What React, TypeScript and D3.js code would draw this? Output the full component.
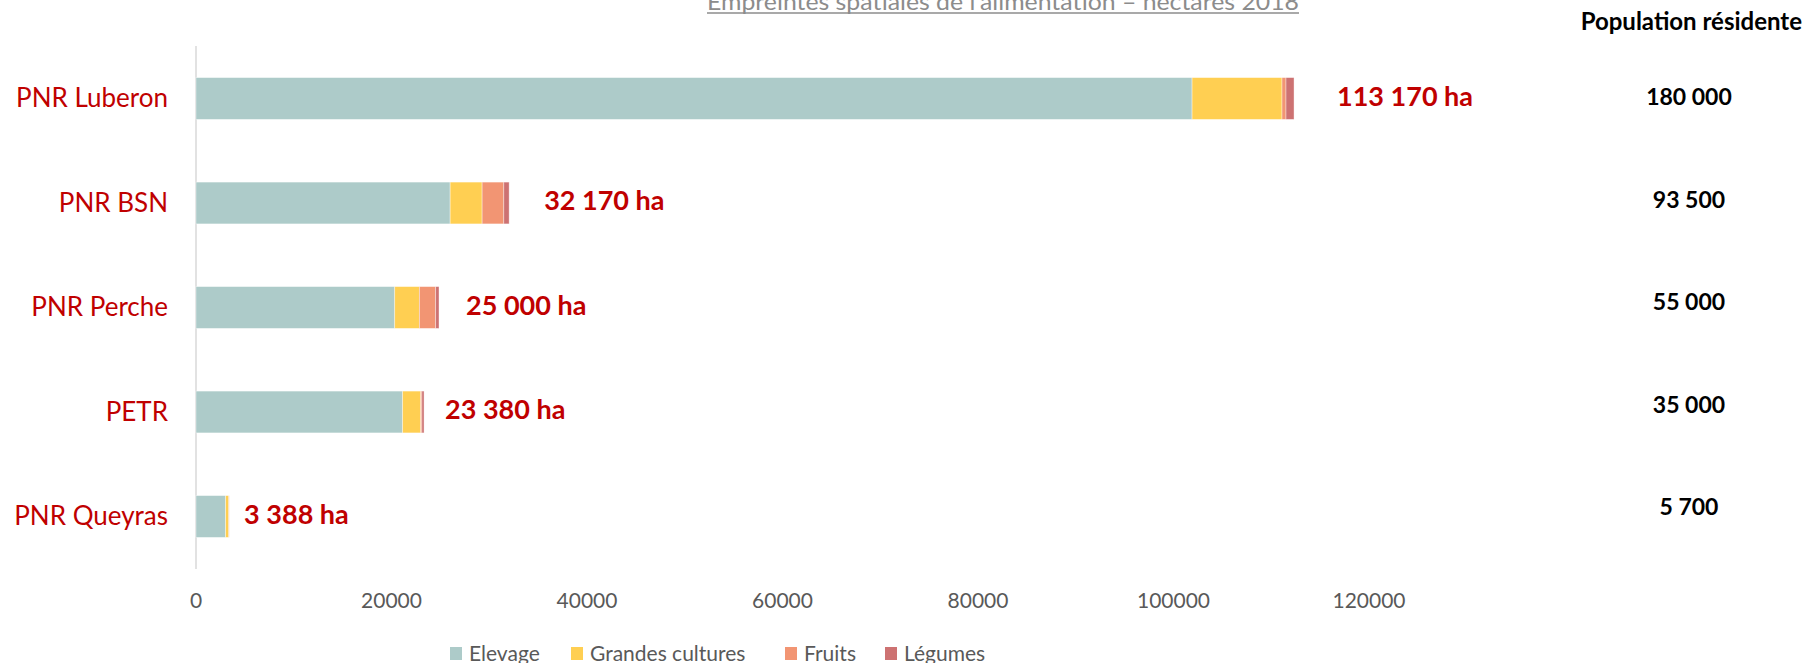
import React from "react";
import * as d3 from "d3";

const categories = ["PNR Luberon", "PNR BSN", "PNR Perche", "PETR", "PNR Queyras"];
const seriesNames = ["Elevage", "Grandes cultures", "Fruits", "Légumes"];
const elevage = [101900, 26000, 20330, 21140, 3030];
const grandesCultures = [9200, 3270, 2520, 1850, 330];
const fruits = [410, 2220, 1670, 120, 15];
const legumes = [820, 545, 340, 220, 13];
const totalLabels = ["113 170 ha", "32 170 ha", "25 000 ha", "23 380 ha", "3 388 ha"];
const population = ["180 000", "93 500", "55 000", "35 000", "5 700"];
const xTicks = [0, 20000, 40000, 60000, 80000, 100000, 120000];
const title = "Empreintes spatiales de l'alimentation – hectares 2018";
const popTitle = "Population résidente";

const colors = ["#ADCBC9", "#FFCF52", "#F29573", "#CD7272"];

const W = 1808;
const H = 663;
const FONT = "Lato, 'Open Sans', sans-serif";

export default function App() {
  const rows = categories.map((c, i) => ({
    cat: c,
    "Elevage": elevage[i],
    "Grandes cultures": grandesCultures[i],
    "Fruits": fruits[i],
    "Légumes": legumes[i],
  }));
  const stack = d3.stack<any>().keys(seriesNames);
  const stacked = stack(rows);

  const x = d3.scaleLinear().domain([0, 120000]).range([196, 1369]);
  const y = d3
    .scaleBand<string>()
    .domain(categories)
    .range([46.25, 568.75])
    .paddingInner(0.6)
    .paddingOuter(0.3);
  const popY = d3.scalePoint<string>().domain(categories).range([96.5, 506.7]);

  const labelGap = [43, 35, 27, 21, 15];
  const legendX = [450, 571, 785, 885];

  return (
    <svg
      width={W}
      height={H}
      style={{ position: "absolute", left: 0, top: 0, background: "#fff" }}
      fontFamily={FONT}
    >
      <rect x={0} y={0} width={W} height={H} fill="#fff" />
      {/* title */}
      <text
        x={707}
        y={10}
        fontSize={24}
        fill="#8C8C8C"
        textLength={592}
        lengthAdjust="spacingAndGlyphs"
      >
        {title}
      </text>
      <line x1={707} x2={1299} y1={13} y2={13} stroke="#8C8C8C" strokeWidth={1.3} />

      {/* axis line */}
      <line x1={196} x2={196} y1={46} y2={569} stroke="#D9D9D9" strokeWidth={1.5} />

      {/* bars */}
      {stacked.map((s, si) => (
        <g key={s.key} fill={colors[si]}>
          {s.map((d, i) => (
            <rect
              key={i}
              x={x(d[0])}
              y={y(categories[i])!}
              width={Math.max(0, x(d[1]) - x(d[0]))}
              height={y.bandwidth()}
              stroke="#fff"
              strokeOpacity={0.5}
              strokeWidth={0.75}
            />
          ))}
        </g>
      ))}

      {/* category labels */}
      {categories.map((c) => (
        <text
          key={c}
          x={168}
          y={y(c)! + y.bandwidth() / 2 + 8.5}
          textAnchor="end"
          fontSize={26}
          fill="#C00000"
        >
          {c}
        </text>
      ))}

      {/* total labels */}
      {categories.map((c, i) => {
        const end = stacked[stacked.length - 1][i][1];
        return (
          <text
            key={c}
            x={x(end) + labelGap[i]}
            y={y(c)! + y.bandwidth() / 2 + 7}
            fontSize={27}
            fontWeight="bold"
            fill="#C00000"
          >
            {totalLabels[i]}
          </text>
        );
      })}

      {/* population */}
      <text x={1802} y={30} textAnchor="end" fontSize={24} fontWeight="bold" fill="#000">
        {popTitle}
      </text>
      {categories.map((c, i) => (
        <text
          key={c}
          x={1689}
          y={popY(c)! + 8.5}
          textAnchor="middle"
          fontSize={23}
          fontWeight="bold"
          fill="#000"
        >
          {population[i]}
        </text>
      ))}

      {/* x ticks */}
      {xTicks.map((t) => (
        <text key={t} x={x(t)} y={607.5} textAnchor="middle" fontSize={21} fill="#595959">
          {t}
        </text>
      ))}

      {/* legend */}
      {seriesNames.map((s, i) => (
        <g key={s}>
          <rect x={legendX[i]} y={647} width={12} height={13} fill={colors[i]} />
          <text x={legendX[i] + 19} y={661} fontSize={21} fill="#595959">
            {s}
          </text>
        </g>
      ))}
    </svg>
  );
}
